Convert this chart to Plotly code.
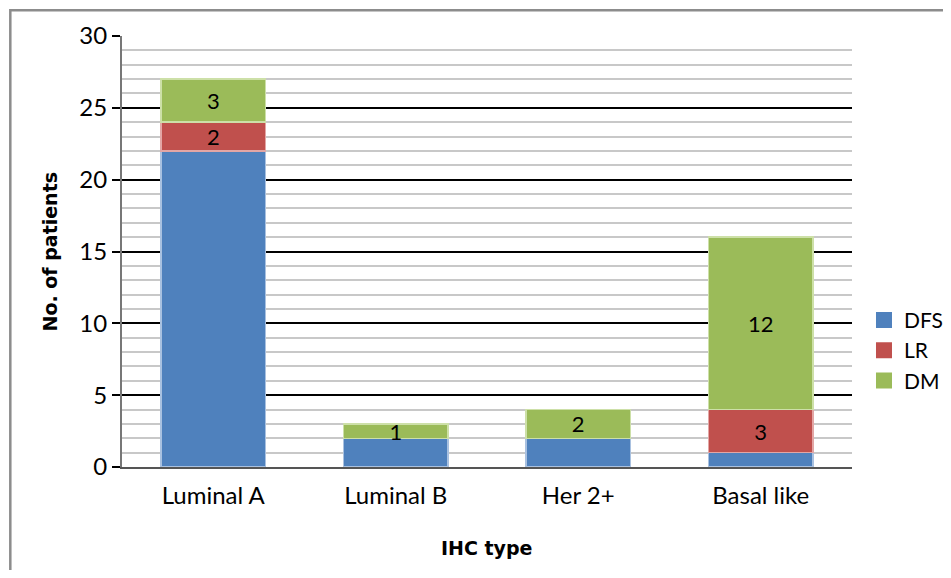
import plotly.graph_objects as go

categories = ["Luminal A", "Luminal B", "Her 2+", "Basal like"]
dfs = [22, 2, 2, 1]
lr = [2, 0, 0, 3]
dm = [3, 1, 2, 12]
y_ticks = [0, 5, 10, 15, 20, 25, 30]

FONT = "Lato, 'Open Sans', sans-serif"
TITLE_FONT = "'DejaVu Sans', sans-serif"

series = [
    ("DFS", dfs, "#4F81BD", "#A9C1E0", False),
    ("LR", lr, "#C0504D", "#E3A6A5", True),
    ("DM", dm, "#9BBB59", "#CDE0A8", True),
]

def labels(vals):
    return [str(v) if v > 0 else "" for v in vals]

fig = go.Figure()
for name, vals, col, edge, lab in series:
    fig.add_bar(name=name, x=categories, y=vals, showlegend=False,
                text=labels(vals) if lab else None,
                marker=dict(color=col, line=dict(color=edge, width=1.5)))
for name, vals, col, edge, lab in series:
    fig.add_scatter(name=name, x=[None], y=[None], mode="markers",
                    marker=dict(symbol="square", size=19, color=col))

fig.update_traces(textposition="inside", insidetextanchor="middle", textangle=0,
                  textfont=dict(color="black", size=22, family=FONT),
                  constraintext="none", selector=dict(type="bar"))

fig.update_layout(
    barmode="stack",
    bargap=0.43,
    width=935, height=562,
    margin=dict(l=114, r=90, t=28, b=103),
    paper_bgcolor="white", plot_bgcolor="white",
    font=dict(family=FONT, color="black", size=22),
    uniformtext=dict(minsize=22, mode="show"),
    legend=dict(xref="container", yref="container",
                x=0.9155, y=0.391, xanchor="left", yanchor="middle",
                font=dict(size=21), traceorder="normal",
                itemwidth=30, tracegroupgap=0),
    xaxis=dict(showline=True, linecolor="#555555", linewidth=2,
               tickfont=dict(size=24), ticks="", ticklabelstandoff=6),
    yaxis=dict(range=[0, 30], tickvals=y_ticks, showline=True,
               linecolor="#777777", linewidth=2, ticks="outside", ticklen=8,
               tickcolor="black", tickwidth=2, tickfont=dict(size=24),
               showgrid=True, gridcolor="black", gridwidth=2, zeroline=False,
               minor=dict(dtick=1, showgrid=True, gridcolor="#C8C8C8", gridwidth=2)),
    annotations=[
        dict(text="<b>No. of patients</b>", xref="paper", yref="paper",
             x=-0.1, y=0.5, xanchor="center", yanchor="middle", textangle=-90,
             showarrow=False, font=dict(family=TITLE_FONT, size=19)),
        dict(text="<b>IHC type</b>", xref="paper", yref="paper",
             x=0.5, y=-0.188, xanchor="center", yanchor="middle",
             showarrow=False, font=dict(family=TITLE_FONT, size=19)),
    ],
    shapes=[dict(type="rect", xref="paper", yref="paper",
                 x0=-0.153, x1=1.3, y0=-0.4, y1=1.06,
                 line=dict(color="#8C8C8C", width=2.5), layer="below")],
)

fig.write_html("out.html")
